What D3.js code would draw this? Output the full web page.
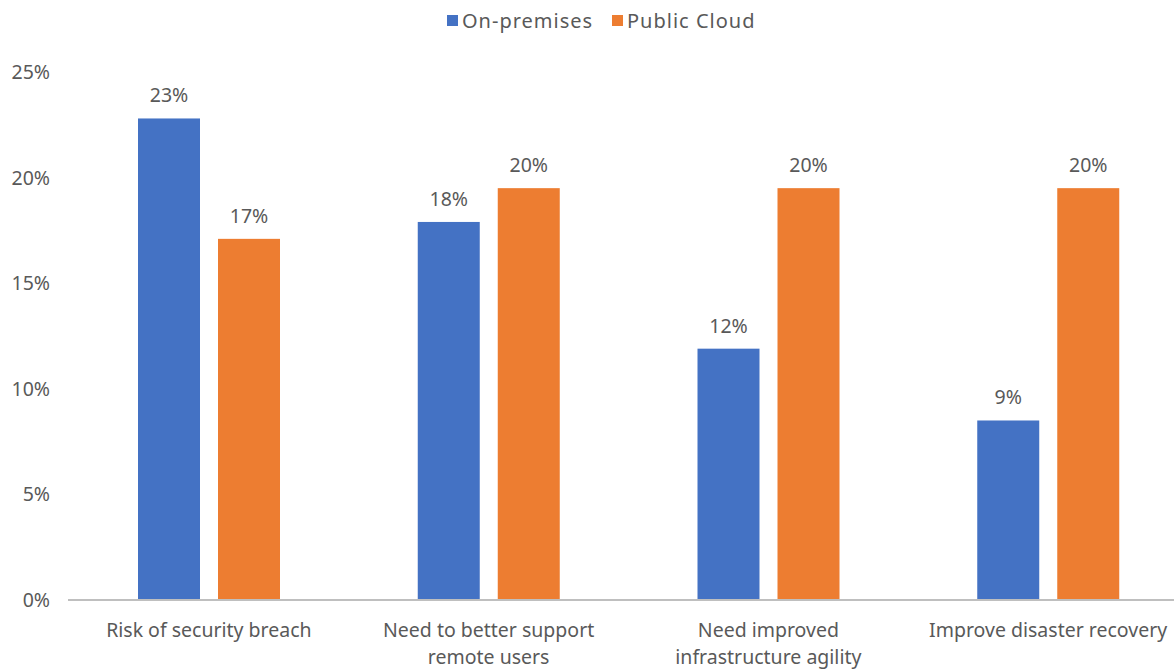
<!DOCTYPE html>
<html>
<head>
<meta charset="utf-8">
<script src="https://cdn.jsdelivr.net/npm/d3@7"></script>
<style>
  body { margin: 0; background: #fff; }
  text { font-family: "Noto Sans", "Open Sans", sans-serif; fill: #595959; }
</style>
</head>
<body>
<div id="chart"></div>
<script>
// values (percent)
var categories = [
    ["Risk of security breach"],
    ["Need to better support", "remote users"],
    ["Need improved", "infrastructure agility"],
    ["Improve disaster recovery"]
];
var seriesNames = ["On-premises", "Public Cloud"];
var onPrem = [22.8, 17.9, 11.9, 8.5];
var publicCloud = [17.1, 19.5, 19.5, 19.5];
var valueLabels = [["23%", "18%", "12%", "9%"], ["17%", "20%", "20%", "20%"]];
var yTicks = [0, 5, 10, 15, 20, 25];
var colors = ["#4472c4", "#ed7d31"];

var W = 1174, H = 670;
var svg = d3.select("#chart").append("svg").attr("width", W).attr("height", H);

var x = d3.scaleBand().domain(d3.range(categories.length)).range([69, 1188]);
var inner = d3.scaleBand().domain([0, 1]).range([69, 211]).paddingInner(0.225);
var y = d3.scaleLinear().domain([0, 25]).range([600, 72]);

// y axis labels (no line)
svg.selectAll(".ytick").data(yTicks).enter().append("text")
    .attr("x", 50).attr("y", function(d) { return y(d) + 7; })
    .attr("text-anchor", "end").attr("font-size", 19.5)
    .text(function(d) { return d + "%"; });

var series = [onPrem, publicCloud];
series.forEach(function(vals, s) {
    svg.selectAll(".bar" + s).data(vals).enter().append("rect")
        .attr("x", function(d, i) { return x(i) + inner(s); })
        .attr("width", inner.bandwidth())
        .attr("y", function(d) { return y(d); })
        .attr("height", function(d) { return y(0) - y(d); })
        .attr("fill", colors[s]);
    svg.selectAll(".lab" + s).data(vals).enter().append("text")
        .attr("x", function(d, i) { return x(i) + inner(s) + inner.bandwidth() / 2; })
        .attr("y", function(d) { return y(d) - 16; })
        .attr("text-anchor", "middle").attr("font-size", 19.5)
        .text(function(d, i) { return valueLabels[s][i]; });
});

// x axis line
svg.append("line").attr("x1", 68).attr("x2", W).attr("y1", 600).attr("y2", 600)
    .attr("stroke", "#bfbfbf").attr("stroke-width", 2);

// category labels
categories.forEach(function(lines, i) {
    var t = svg.append("text").attr("text-anchor", "middle").attr("font-size", 19.5);
    lines.forEach(function(line, k) {
        t.append("tspan").attr("x", x(i) + x.bandwidth() / 2).attr("y", 637 + k * 27).text(line);
    });
});

// legend
var legend = [{x: 447, tx: 462}, {x: 612, tx: 627}];
legend.forEach(function(p, s) {
    svg.append("rect").attr("x", p.x).attr("y", 15).attr("width", 11).attr("height", 11).attr("fill", colors[s]);
    svg.append("text").attr("x", p.tx).attr("y", 28).attr("font-size", 20)
        .attr("letter-spacing", 1).text(seriesNames[s]);
});
</script>
</body>
</html>
